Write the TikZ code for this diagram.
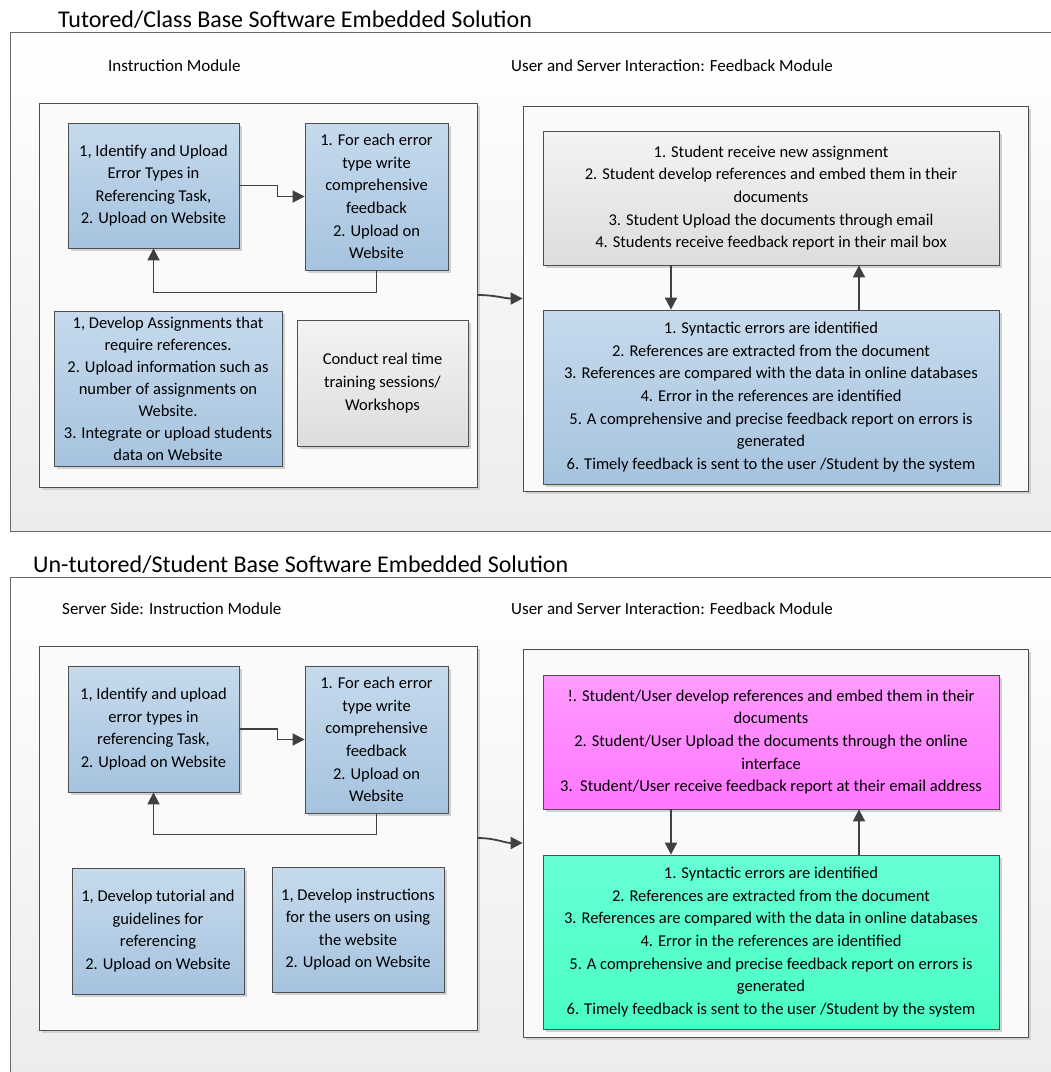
\documentclass[tikz,border=0pt]{standalone}
\usepackage{fontspec}
\setmainfont{Carlito}
\usetikzlibrary{arrows.meta,shadows}

\definecolor{edge}{HTML}{4F4F4F}
\definecolor{frameline}{HTML}{6A6A6A}
\definecolor{arrowgray}{HTML}{404040}
\definecolor{blueTop}{HTML}{C6DAEC}
\definecolor{blueBot}{HTML}{A6C3DF}
\definecolor{grayTop}{HTML}{F3F3F3}
\definecolor{grayBot}{HTML}{DDDDDD}
\definecolor{pinkTop}{HTML}{FF9BFF}
\definecolor{pinkBot}{HTML}{FF76FF}
\definecolor{mintTop}{HTML}{66FFD4}
\definecolor{mintBot}{HTML}{4AFDC4}
\definecolor{panelBot}{HTML}{ECECEC}

\begin{document}
\begin{tikzpicture}[x=1pt,y=-1pt,
  bodytext/.style={font=\fontsize{16.5}{22.6}\selectfont, align=center, inner sep=0pt},
  heading/.style={font=\fontsize{24}{28}\selectfont, inner sep=0pt, anchor=base west},
  modlabel/.style={font=\fontsize{17}{20}\selectfont, inner sep=0pt, anchor=base west},
  shade3/.style={drop shadow={shadow xshift=3pt,shadow yshift=-3pt,fill=black!18,opacity=1}},
  card/.style={bodytext, rectangle, draw=edge, line width=0.8pt, shade3},
  bluecard/.style={card, top color=blueTop, bottom color=blueBot},
  graycard/.style={card, top color=grayTop, bottom color=grayBot},
  pinkcard/.style={card, top color=pinkTop, bottom color=pinkBot},
  mintcard/.style={card, top color=mintTop, bottom color=mintBot},
  module/.style={rectangle, draw=edge, line width=0.8pt, fill=white!98!black, shade3},
  arr/.style={draw=arrowgray, line width=1.8pt, -{Triangle[length=12pt,width=12pt]}},
]
\useasboundingbox (0,0) rectangle (1051,1072);

% ---------- outer panels ----------
\fill[top color=white, bottom color=panelBot] (10,32) rectangle (1060,531);
\draw[frameline, line width=1pt] (1060,32) -- (10,32) -- (10,531) -- (1060,531);
\fill[top color=white, bottom color=panelBot] (10,577) rectangle (1060,1080);
\draw[frameline, line width=1pt] (1060,577) -- (10,577) -- (10,1080);

\node[heading] (title1) at (58,27) {Tutored/Class Base Software Embedded Solution};
\node[heading] (title2) at (33,572) {Un-tutored/Student Base Software Embedded Solution};

% ---------- tutored solution ----------
\node[modlabel] (lab1) at (108,71) {Instruction Module};
\node[modlabel] (lab2) at (511,71) {User and Server Interaction: Feedback Module};

\node[module, minimum width=438, minimum height=384] (lin) at (258,295) {};
\node[module, minimum width=505, minimum height=385] (rin) at (775.5,298.5) {};

\node[bluecard, minimum width=171, minimum height=125] (a) at (153.5,185.5)
  {1, Identify and Upload\\Error Types in\\Referencing Task,\\2. Upload on Website};
\node[bluecard, minimum width=143, minimum height=147] (b) at (376.5,196.5)
  {1. For each error\\type write\\comprehensive\\feedback\\2. Upload on\\Website};
\node[bluecard, minimum width=228, minimum height=155, font=\fontsize{16.5}{22}\selectfont] (c) at (168,388.5)
  {1, Develop Assignments that\\require references.\\2. Upload information such as\\number of assignments on\\Website.\\3. Integrate or upload students\\data on Website};
\node[graycard, minimum width=171, minimum height=126] (d) at (382.5,383)
  {Conduct real time\\training sessions/\\Workshops};

\node[graycard, minimum width=456, minimum height=134] (e) at (771,198)
  {1. Student receive new assignment\\2. Student develop references and embed them in their\\documents\\3. Student Upload the documents through email\\4. Students receive feedback report in their mail box};
\node[bluecard, minimum width=456, minimum height=174] (f) at (771,397)
  {1. Syntactic errors are identified\\2. References are extracted from the document\\3. References are compared with the data in online databases\\4. Error in the references are identified\\5. A comprehensive and precise feedback report on errors is\\generated\\6. Timely feedback is sent to the user /Student by the system};

\coordinate (downx) at (671,0);
\coordinate (upx) at (859,0);

\draw[arr] (a.east) -- ++(38,0) |- (b.west);
\draw[arr] (b.south) -- ++(0,22) -| (a.south);
\draw[arr] (e.south -| downx) -- (f.north -| downx);
\draw[arr] (f.north -| upx) -- (e.south -| upx);
\draw[arr] (lin.east) to[out=0,in=180] (rin.west);

% ---------- un-tutored solution ----------
\node[modlabel] (lab3) at (62,614) {Server Side: Instruction Module};
\node[modlabel] (lab4) at (511,614) {User and Server Interaction: Feedback Module};

\node[module, minimum width=438, minimum height=384] (lin2) at (258,838) {};
\node[module, minimum width=505, minimum height=388] (rin2) at (775.5,843) {};

\node[bluecard, minimum width=171, minimum height=126] (a2) at (153.5,729)
  {1, Identify and upload\\error types in\\referencing Task,\\2. Upload on Website};
\node[bluecard, minimum width=143, minimum height=147] (b2) at (376.5,739.5)
  {1. For each error\\type write\\comprehensive\\feedback\\2. Upload on\\Website};
\node[bluecard, minimum width=172, minimum height=126] (c2) at (158,931)
  {1, Develop tutorial and\\guidelines for\\referencing\\2. Upload on Website};
\node[bluecard, minimum width=172, minimum height=125] (d2) at (358,929.5)
  {1, Develop instructions\\for the users on using\\the website\\2. Upload on Website};

\node[pinkcard, minimum width=456, minimum height=134] (e2) at (771,742)
  {!. Student/User develop references and embed them in their\\documents\\2. Student/User Upload the documents through the online\\interface\\3.\ \ Student/User receive feedback report at their email address};
\node[mintcard, minimum width=456, minimum height=174] (f2) at (771,942)
  {1. Syntactic errors are identified\\2. References are extracted from the document\\3. References are compared with the data in online databases\\4. Error in the references are identified\\5. A comprehensive and precise feedback report on errors is\\generated\\6. Timely feedback is sent to the user /Student by the system};

\draw[arr] (a2.east) -- ++(38,0) |- (b2.west);
\draw[arr] (b2.south) -- ++(0,21) -| (a2.south);
\draw[arr] (e2.south -| downx) -- (f2.north -| downx);
\draw[arr] (f2.north -| upx) -- (e2.south -| upx);
\draw[arr] (lin2.east) to[out=0,in=180] (rin2.west);
\end{tikzpicture}
\end{document}
